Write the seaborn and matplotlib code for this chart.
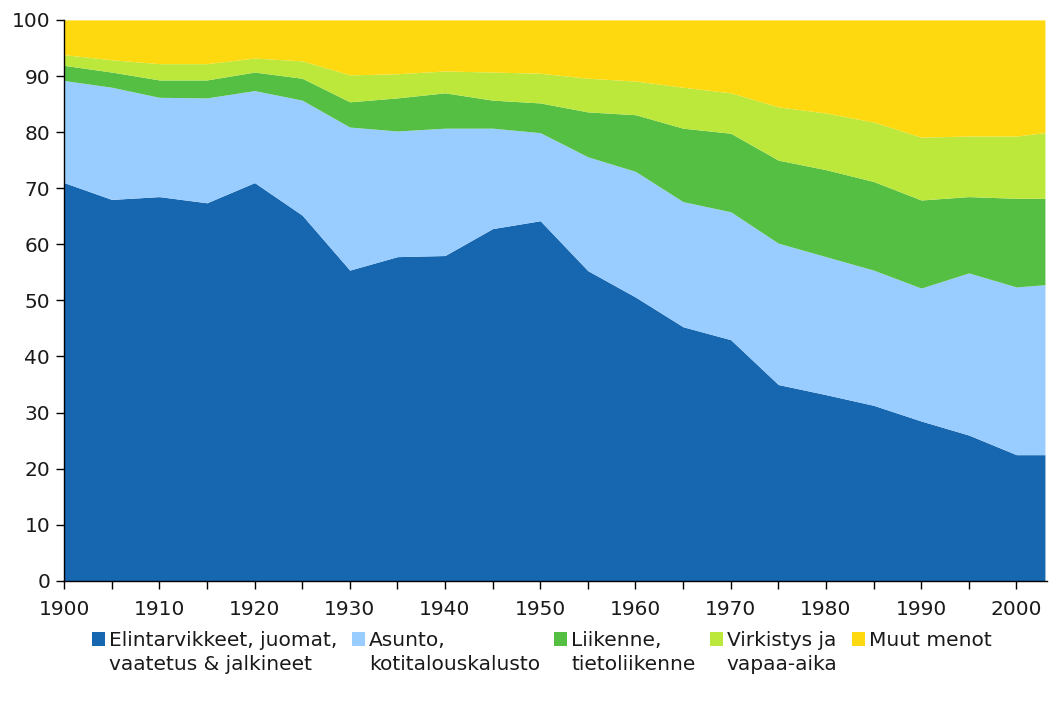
import matplotlib
matplotlib.use("Agg")
import matplotlib.pyplot as plt
import seaborn as sns
from matplotlib.ticker import MultipleLocator
from matplotlib.patches import Patch, Rectangle
from matplotlib.legend_handler import HandlerPatch

# vuodet (5 v välein) ja menojen osuudet, %
years = [1900, 1905, 1910, 1915, 1920, 1925, 1930, 1935, 1940, 1945, 1950,
         1955, 1960, 1965, 1970, 1975, 1980, 1985, 1990, 1995, 2000, 2003]
food = [71.0, 68.0, 68.5, 67.4, 71.0, 65.2, 55.4, 57.8, 58.0, 62.8, 64.2,
        55.3, 50.6, 45.3, 43.0, 35.0, 33.2, 31.3, 28.5, 26.0, 22.5, 22.5]
housing = [18.2, 20.0, 17.7, 18.7, 16.4, 20.5, 25.5, 22.4, 22.7, 17.9, 15.7,
           20.3, 22.4, 22.3, 22.8, 25.2, 24.6, 24.1, 23.7, 28.9, 29.9, 30.3]
transport = [2.7, 2.7, 3.1, 3.2, 3.3, 3.9, 4.5, 5.9, 6.3, 5.0, 5.3,
             8.0, 10.1, 13.1, 14.0, 14.8, 15.5, 15.8, 15.7, 13.6, 15.8, 15.4]
leisure = [1.9, 2.2, 2.9, 2.9, 2.5, 3.1, 4.8, 4.3, 3.9, 5.0, 5.3,
           6.0, 6.0, 7.3, 7.2, 9.5, 10.1, 10.6, 11.2, 10.8, 11.1, 11.7]
other = [6.2, 7.1, 7.8, 7.8, 6.8, 7.3, 9.8, 9.6, 9.1, 9.3, 9.5,
         10.4, 10.9, 12.0, 13.0, 15.5, 16.6, 18.2, 20.9, 20.7, 20.7, 20.1]

labels = ["Elintarvikkeet, juomat,\nvaatetus & jalkineet",
          "Asunto,\nkotitalouskalusto",
          "Liikenne,\ntietoliikenne",
          "Virkistys ja\nvapaa-aika",
          "Muut menot\n "]
colors = sns.color_palette(["#1767B0", "#99CCFF", "#55BF43", "#BBE83A", "#FFD90F"])

sns.set_theme(style="ticks")
plt.rcParams["font.family"] = ["DejaVu Sans"]

fig = plt.figure(figsize=(10.5, 7.11), dpi=100)
ax = fig.add_axes([0.061, 0.183, 0.936, 0.789])

ax.stackplot(years, food, housing, transport, leisure, other,
             colors=colors, linewidth=0)

ax.set_xlim(1900, 2003.2)
ax.set_ylim(0, 100)
ax.yaxis.set_major_locator(MultipleLocator(10))
ax.xaxis.set_major_locator(MultipleLocator(10))
ax.xaxis.set_minor_locator(MultipleLocator(5))
ax.tick_params(axis="both", which="both", length=6, width=1, color="black",
               labelsize=14.5, labelcolor="#1a1a1a")
ax.tick_params(axis="x", pad=8)
ax.tick_params(axis="y", pad=4)
for s in ["top", "right"]:
    ax.spines[s].set_visible(False)
for s in ["left", "bottom"]:
    ax.spines[s].set_color("black")
    ax.spines[s].set_linewidth(1)


# legend square lined up with the first text row
def square(legend, orig_handle, xdescent, ydescent, width, height, fontsize):
    return Rectangle((-xdescent, -ydescent + 0.7 * fontsize), width, height)


handles = [Patch(facecolor=c, edgecolor="none", label=l) for c, l in zip(colors, labels)]
leg = fig.legend(handles=handles, loc="center", bbox_to_anchor=(0.516, 0.082), ncol=5,
                 frameon=False, fontsize=14.5, handlelength=0.65, handleheight=0.65,
                 handletextpad=0.2, columnspacing=0.7, labelcolor="#1a1a1a",
                 handler_map={Patch: HandlerPatch(patch_func=square)})
for t in leg.get_texts():
    t.set_linespacing(1.3)

fig.savefig("out.png", dpi=100)
